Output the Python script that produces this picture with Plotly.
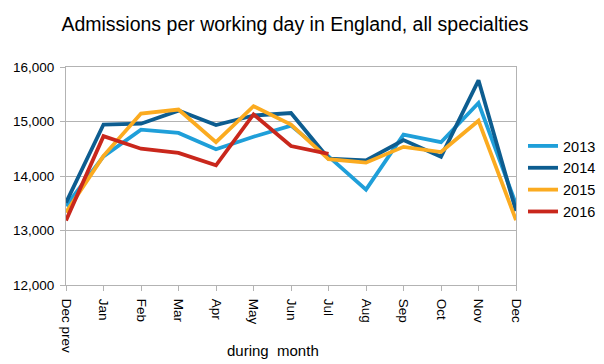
import plotly.graph_objects as go

months = ["Dec prev", "Jan", "Feb", "Mar", "Apr", "May", "Jun", "Jul", "Aug", "Sep", "Oct", "Nov", "Dec"]
y2013 = [13450, 14360, 14850, 14790, 14490, 14720, 14925, 14360, 13750, 14760, 14620, 15340, 13480]
y2014 = [13510, 14945, 14960, 15200, 14935, 15110, 15155, 14320, 14285, 14660, 14355, 15755, 13360]
y2015 = [13330, 14370, 15145, 15220, 14620, 15280, 14945, 14310, 14245, 14535, 14440, 15015, 13190]
y2016 = [13185, 14730, 14500, 14425, 14195, 15130, 14550, 14405, None, None, None, None, None]
series = [("2013", y2013, "#1f9fd9"), ("2014", y2014, "#0d5d90"),
          ("2015", y2015, "#fbab20"), ("2016", y2016, "#c9271c")]
yticks = [12000, 13000, 14000, 15000, 16000]

fig = go.Figure()
for name, ys, col in series:
    fig.add_trace(go.Scatter(x=months, y=ys, mode="lines", name=name,
                             line=dict(color=col, width=3.8), connectgaps=False))

font = "Liberation Sans, Arial, sans-serif"
fig.update_layout(
    width=604, height=364,
    margin=dict(l=66, r=88, t=67, b=79, autoexpand=False),
    paper_bgcolor="white", plot_bgcolor="white",
    font=dict(family=font, size=13, color="black"),
    title=dict(text="Admissions per working day in England, all specialties",
               x=295 / 604, xanchor="center", y=1 - 24 / 364, yanchor="middle",
               font=dict(size=19.5, family=font, color="black")),
    showlegend=True,
    legend=dict(xref="container", yref="container", x=523 / 604, xanchor="left",
                y=1 - 130 / 364, yanchor="top",
                font=dict(size=14.5, family=font), tracegroupgap=0,
                itemwidth=30, bgcolor="rgba(0,0,0,0)"),
    xaxis=dict(type="category", range=[0, 12], tickangle=90,
               showgrid=False, showline=True, linecolor="#b3b3b3", linewidth=1, mirror=True,
               ticks="outside", ticklen=5, tickcolor="#b3b3b3", ticklabelstandoff=5,
               tickfont=dict(size=13.5, family=font)),
    yaxis=dict(range=[12000, 16000], tickvals=yticks, tickformat=",",
               showgrid=True, gridcolor="#b3b3b3", gridwidth=1,
               showline=True, linecolor="#b3b3b3", linewidth=1, mirror=True,
               ticks="outside", ticklen=5, tickcolor="#b3b3b3", zeroline=False,
               ticklabelstandoff=3,
               tickfont=dict(size=13.5, family=font)),
)
fig.add_annotation(text="during\u00a0\u00a0month", xref="paper", yref="paper",
                   x=(273 - 66) / 450, y=-(350 - 285) / 218, showarrow=False,
                   xanchor="center", yanchor="middle", font=dict(size=15, family=font))
fig.write_html("out.html", config={"displayModeBar": False},
               post_script="document.body.style.margin='0';")
